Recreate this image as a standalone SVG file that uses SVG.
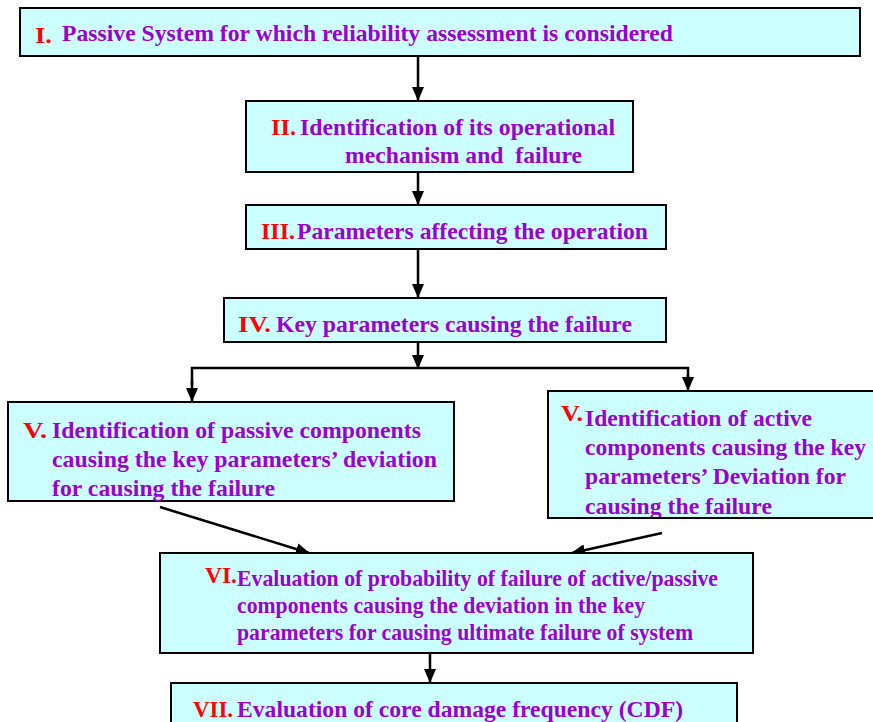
<svg xmlns="http://www.w3.org/2000/svg" width="873" height="722" viewBox="0 0 873 722">
<style>
.box{fill:#CCFFFF;stroke:#000;stroke-width:2}
text{font-family:"Liberation Serif","Times New Roman",serif;font-weight:bold;font-size:24px}
.n{fill:#FF0000}
.t{fill:#9900CC}
.c{fill:none;stroke:#000;stroke-width:2.5}
</style>
<defs>
<marker id="ah" markerWidth="14" markerHeight="12" refX="13" refY="6" orient="auto" markerUnits="userSpaceOnUse">
<path d="M0,0 L14,6 L0,12 z" fill="#000"/>
</marker>
<clipPath id="clipR"><rect x="548" y="391" width="330" height="126"/></clipPath>
</defs>
<g id="connectors">
<line class="c" x1="418" y1="56" x2="418" y2="100" marker-end="url(#ah)"/>
<line class="c" x1="418" y1="172" x2="418" y2="204" marker-end="url(#ah)"/>
<line class="c" x1="418" y1="249" x2="418" y2="297" marker-end="url(#ah)"/>
<line class="c" x1="418" y1="342" x2="418" y2="368" marker-end="url(#ah)"/>
<polyline class="c" points="192,385 192,368 688,368 688,380"/>
<line class="c" x1="192" y1="380" x2="192" y2="401" marker-end="url(#ah)"/>
<line class="c" x1="688" y1="375" x2="688" y2="390" marker-end="url(#ah)"/>
<line class="c" x1="160" y1="507" x2="309" y2="553" marker-end="url(#ah)"/>
<line class="c" x1="662" y1="533" x2="572" y2="553" marker-end="url(#ah)"/>
<line class="c" x1="430" y1="653" x2="430" y2="682" marker-end="url(#ah)"/>
</g>
<g id="n1">
<rect class="box" x="20" y="8" width="840" height="48"/>
<text x="35" y="43" class="n" textLength="17" lengthAdjust="spacingAndGlyphs">I.</text>
<text x="62" y="41" class="t" textLength="611" lengthAdjust="spacingAndGlyphs">Passive System for which reliability assessment is considered</text>
</g>
<g id="n2">
<rect class="box" x="246" y="101" width="387" height="71"/>
<text x="271" y="135" class="n" textLength="25" lengthAdjust="spacingAndGlyphs">II.</text>
<text x="300" y="135" class="t" textLength="315" lengthAdjust="spacingAndGlyphs">Identification of its operational</text>
<text x="345" y="163" class="t" textLength="237" lengthAdjust="spacingAndGlyphs" xml:space="preserve">mechanism and  failure</text>
</g>
<g id="n3">
<rect class="box" x="246" y="205" width="420" height="44"/>
<text x="261" y="239" class="n" textLength="34" lengthAdjust="spacingAndGlyphs">III.</text>
<text x="297" y="239" class="t" textLength="351" lengthAdjust="spacingAndGlyphs">Parameters affecting the operation</text>
</g>
<g id="n4">
<rect class="box" x="224" y="298" width="442" height="44"/>
<text x="238" y="332" class="n" textLength="33" lengthAdjust="spacingAndGlyphs">IV.</text>
<text x="276" y="332" class="t" textLength="356" lengthAdjust="spacingAndGlyphs">Key parameters causing the failure</text>
</g>
<g id="n5a">
<rect class="box" x="8" y="402" width="446" height="99"/>
<text x="23" y="438" class="n" textLength="24" lengthAdjust="spacingAndGlyphs">V.</text>
<text x="52" y="438" class="t" textLength="369" lengthAdjust="spacingAndGlyphs">Identification of passive components</text>
<text x="52" y="467" class="t" textLength="385" lengthAdjust="spacingAndGlyphs">causing the key parameters’ deviation</text>
<text x="52" y="496" class="t" textLength="223" lengthAdjust="spacingAndGlyphs">for causing the failure</text>
</g>
<g id="n5b">
<rect class="box" x="548" y="391" width="330" height="127"/>
<g clip-path="url(#clipR)">
<text x="561" y="421" class="n" textLength="22" lengthAdjust="spacingAndGlyphs">V.</text>
<text x="585" y="426" class="t" textLength="227" lengthAdjust="spacingAndGlyphs">Identification of active</text>
<text x="585" y="455" class="t" textLength="281" lengthAdjust="spacingAndGlyphs">components causing the key</text>
<text x="585" y="484" class="t" textLength="261" lengthAdjust="spacingAndGlyphs">parameters’ Deviation for</text>
<text x="585" y="514" class="t" textLength="187" lengthAdjust="spacingAndGlyphs">causing the failure</text>
</g>
</g>
<g id="n6">
<rect class="box" x="160" y="553" width="593" height="100"/>
<text x="205" y="583" class="n" textLength="32" lengthAdjust="spacingAndGlyphs">VI.</text>
<text x="237" y="586" class="t" textLength="481" lengthAdjust="spacingAndGlyphs">Evaluation of probability of failure of active/passive</text>
<text x="237" y="613" class="t" textLength="408" lengthAdjust="spacingAndGlyphs">components causing the deviation in the key</text>
<text x="237" y="640" class="t" textLength="456" lengthAdjust="spacingAndGlyphs">parameters for causing ultimate failure of system</text>
</g>
<g id="n7">
<rect class="box" x="171" y="683" width="566" height="45"/>
<text x="193" y="717" class="n" textLength="40" lengthAdjust="spacingAndGlyphs">VII.</text>
<text x="237" y="717" class="t" textLength="446" lengthAdjust="spacingAndGlyphs">Evaluation of core damage frequency (CDF)</text>
</g>
</svg>
